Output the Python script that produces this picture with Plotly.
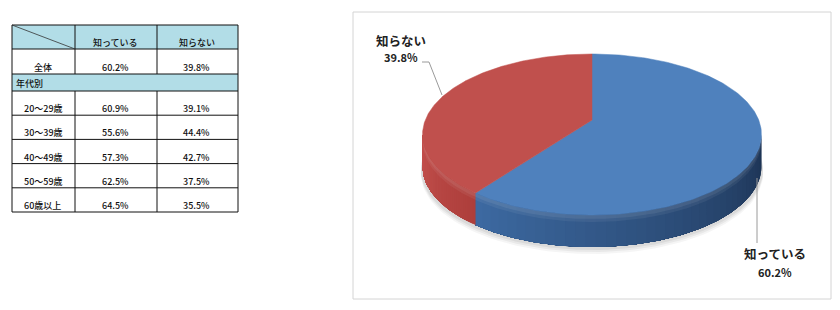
import numpy as np
import plotly.graph_objects as go

# ---------------- data ----------------
answer_labels = ["知っている", "知らない"]
overall_values = [60.2, 39.8]
total_label = "全体"
group_label = "年代別"
age_groups = ["20～29歳", "30～39歳", "40～49歳", "50～59歳", "60歳以上"]
know_values = [60.9, 55.6, 57.3, 62.5, 64.5]
dont_know_values = [39.1, 44.4, 42.7, 37.5, 35.5]

# ---------------- styles ----------------
JP = "Noto Sans CJK JP, Noto Sans, sans-serif"
top_colors = ["#4f81bd", "#c0504d"]
wall_colors = [("#1c3252", "#3d6aa2"), ("#ad3e3b", "#c4514e")]

fig = go.Figure()

# ---------------- 3D pie geometry ----------------
cx0, cy0 = 592.0, 120.0
A, B, K = 166.7, 77.9, 0.18
DEPTH = 32.0


def proj(theta_deg, dy=0.0):
    t = np.radians(theta_deg)
    u = np.sin(t)
    v = -np.cos(t)
    d = 1 - K * v
    return cx0 + A * u / d, cy0 + B * v / d + dy


def hex2rgb(h):
    h = h.lstrip("#")
    return np.array([int(h[i:i + 2], 16) for i in (0, 2, 4)], dtype=float)


def mix(c1, c2, f):
    c = hex2rgb(c1) * (1 - f) + hex2rgb(c2) * f
    return "rgb(%d,%d,%d)" % tuple(np.round(c).astype(int))


total = sum(overall_values)
bounds = [0.0]
for v in overall_values:
    bounds.append(bounds[-1] + 360.0 * v / total)

th_r = np.degrees(np.arccos(-K))          # right silhouette angle
th_l = 360.0 - th_r                        # left silhouette angle

# soft shadow
for off, alpha in [(7, 0.04), (5, 0.05), (3, 0.06)]:
    ts = np.linspace(0, 360, 181)
    xs, ys = proj(ts, DEPTH + off)
    xs = cx0 + (xs - cx0) * 1.01
    fig.add_trace(go.Scatter(x=xs, y=ys, mode="lines", fill="toself",
                             fillcolor="rgba(0,0,0,%.2f)" % alpha,
                             line=dict(width=0), hoverinfo="skip",
                             showlegend=False))

# walls: each strip covers from its start to the slice end, drawn in order,
# so no seams are left between strips
for i in range(len(overall_values)):
    a0, a1 = max(bounds[i], th_r), min(bounds[i + 1], th_l)
    if a1 <= a0:
        continue
    n = 40
    edges = np.linspace(a0, a1, n + 1)
    c_start, c_end = wall_colors[i]
    for j in range(n):
        ts = np.linspace(edges[j], a1, max(4, int((a1 - edges[j]) * 1.5)))
        xt, yt = proj(ts)
        xb, yb = proj(ts[::-1], DEPTH)
        f = (j + 0.5) / n
        col = mix(c_start, c_end, f)
        fig.add_trace(go.Scatter(x=np.r_[xt, xb, xt[0]], y=np.r_[yt, yb, yt[0]],
                                 mode="lines", fill="toself", fillcolor=col,
                                 line=dict(width=0),
                                 hoverinfo="skip", showlegend=False))

# bevel highlight on top of the wall
for hgt, alpha in [(7, 0.06), (4, 0.07)]:
    ts = np.linspace(th_r, th_l, 200)
    xt, yt = proj(ts)
    xb, yb = proj(ts[::-1], hgt)
    fig.add_trace(go.Scatter(x=np.r_[xt, xb, xt[0]], y=np.r_[yt, yb, yt[0]],
                             mode="lines", fill="toself",
                             fillcolor="rgba(255,255,255,%.2f)" % alpha,
                             line=dict(width=0), hoverinfo="skip", showlegend=False))

# top faces
for i in range(len(overall_values)):
    ts = np.linspace(bounds[i], bounds[i + 1], 200)
    xs, ys = proj(ts)
    fig.add_trace(go.Scatter(x=np.r_[cx0, xs, cx0], y=np.r_[cy0, ys, cy0],
                             mode="lines", fill="toself", fillcolor=top_colors[i],
                             line=dict(color=top_colors[i], width=0.5),
                             hoverinfo="skip", showlegend=False))

# labels + leader lines
lab_font = dict(family=JP, size=12.5, color="#222", weight=700)
pct_font = dict(family=JP, size=11, color="#222", weight=700)
fig.add_trace(go.Scatter(x=[422, 429, 442], y=[62, 62, 95], mode="lines",
                         line=dict(color="#9a9a9a", width=1),
                         hoverinfo="skip", showlegend=False))
fig.add_annotation(x=401, y=40, text=answer_labels[1], showarrow=False,
                   font=lab_font, xref="x", yref="y")
fig.add_annotation(x=401, y=57, text="%.1f%%" % overall_values[1], showarrow=False,
                   font=pct_font, xref="x", yref="y")
fig.add_trace(go.Scatter(x=[757, 757], y=[178, 243], mode="lines",
                         line=dict(color="#9a9a9a", width=1),
                         hoverinfo="skip", showlegend=False))
fig.add_annotation(x=775, y=253, text=answer_labels[0], showarrow=False,
                   font=lab_font, xref="x", yref="y")
fig.add_annotation(x=775, y=272, text="%.1f%%" % overall_values[0], showarrow=False,
                   font=pct_font, xref="x", yref="y")

shapes = []
shapes.append(dict(type="rect", xref="x", yref="y", x0=353, y0=12, x1=831, y1=299,
                   line=dict(color="#d4d4d4", width=1), layer="below"))

# ---------------- table ----------------
col_x = [12, 75, 157, 238]
header_y = [25, 49]
total_y = [49, 74]
group_y = [74, 91]
row_h = 24.2
age_y = [91 + row_h * i for i in range(len(age_groups) + 1)]
header_fill = "#b2dde7"
tfont = dict(family=JP, size=9, color="#111", weight=500)

shapes.append(dict(type="rect", xref="x", yref="y", x0=col_x[0], x1=col_x[-1],
                   y0=header_y[0], y1=header_y[1], fillcolor=header_fill,
                   line=dict(width=0), layer="below"))
shapes.append(dict(type="rect", xref="x", yref="y", x0=col_x[0], x1=col_x[-1],
                   y0=group_y[0], y1=group_y[1], fillcolor=header_fill,
                   line=dict(width=0), layer="below"))

hlines = [header_y[0], header_y[1], total_y[1], group_y[1]] + age_y[1:]
for y in hlines:
    shapes.append(dict(type="line", xref="x", yref="y", x0=col_x[0], x1=col_x[-1],
                       y0=y, y1=y, line=dict(color="#111", width=1)))
bottom = age_y[-1]
for j, x in enumerate(col_x):
    if j in (0, len(col_x) - 1):
        shapes.append(dict(type="line", xref="x", yref="y", x0=x, x1=x,
                           y0=header_y[0], y1=bottom, line=dict(color="#111", width=1)))
    else:
        shapes.append(dict(type="line", xref="x", yref="y", x0=x, x1=x,
                           y0=header_y[0], y1=group_y[0], line=dict(color="#111", width=1)))
        shapes.append(dict(type="line", xref="x", yref="y", x0=x, x1=x,
                           y0=group_y[1], y1=bottom, line=dict(color="#111", width=1)))
shapes.append(dict(type="line", xref="x", yref="y", x0=col_x[0], y0=header_y[0],
                   x1=col_x[1], y1=header_y[1], line=dict(color="#333", width=0.8)))


def cell_text(x, y, s, anchor="center"):
    fig.add_annotation(x=x, y=y, text=s, showarrow=False, xanchor=anchor,
                       yanchor="middle", font=tfont, xref="x", yref="y")


mid2 = (col_x[1] + col_x[2]) / 2 - 1
mid3 = (col_x[2] + col_x[3]) / 2 - 1
for k, lab in enumerate(answer_labels):
    cell_text([mid2, mid3][k], header_y[1] - 7, lab)
cell_text((col_x[0] + col_x[1]) / 2 - 1, total_y[1] - 7, total_label)
cell_text(mid2, total_y[1] - 7, "%.1f%%" % overall_values[0])
cell_text(mid3, total_y[1] - 7, "%.1f%%" % overall_values[1])
cell_text(col_x[0] + 2, group_y[1] - 7.5, group_label, anchor="left")
for i, g in enumerate(age_groups):
    yb = age_y[i + 1] - 6.5
    cell_text(col_x[0] + 10, yb, g, anchor="left")
    cell_text(mid2, yb, "%.1f%%" % know_values[i])
    cell_text(mid3, yb, "%.1f%%" % dont_know_values[i])

fig.update_layout(
    width=840, height=310,
    margin=dict(l=0, r=0, t=0, b=0),
    paper_bgcolor="white", plot_bgcolor="white",
    xaxis=dict(range=[0, 840], visible=False, fixedrange=True),
    yaxis=dict(range=[310, 0], visible=False, fixedrange=True),
    shapes=shapes,
    hovermode=False,
    showlegend=False,
)

fig.write_html("out.html", config={"displayModeBar": False})
